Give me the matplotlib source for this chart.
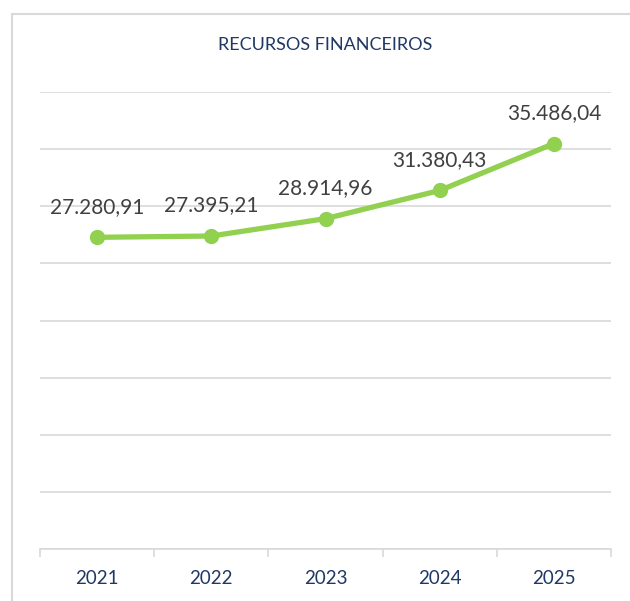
import matplotlib
matplotlib.use("Agg")
import matplotlib.pyplot as plt
from matplotlib.patches import Rectangle

years = ["2021", "2022", "2023", "2024", "2025"]
values = [27280.91, 27395.21, 28914.96, 31380.43, 35486.04]
labels = ["27.280,91", "27.395,21", "28.914,96", "31.380,43", "35.486,04"]
title = "RECURSOS FINANCEIROS"

W, H = 630, 601
fig = plt.figure(figsize=(W / 100, H / 100), dpi=100)
fig.patch.set_facecolor("white")

# outer chart border (extends beyond right/bottom edges)
fig.patches.append(Rectangle((11.5 / W, -0.1), 1.2, 1 - 13.5 / H + 0.1,
                             transform=fig.transFigure, fill=False,
                             edgecolor="#d9d9d9", linewidth=1.5))

left, right, top, bottom = 40, 611, 92, 549
ax = fig.add_axes([left / W, 1 - bottom / H, (right - left) / W, (bottom - top) / H])
ax.set_facecolor("none")

x = list(range(len(years)))
ax.plot(x, values, color="#92D050", linewidth=3.8, marker="o", markersize=10,
        solid_capstyle="round", zorder=3)

for xi, v, lab in zip(x, values, labels):
    ax.annotate(lab, (xi, v), xytext=(0, 22), textcoords="offset points",
                ha="center", va="center", fontsize=15, color="#404040",
                family="Lato")

ax.set_xlim(-0.5, len(years) - 0.5)
ax.set_ylim(0, 40000)
ax.set_yticks(range(0, 40001, 5000))
ax.yaxis.grid(True, color="#d9d9d9", linewidth=1.2)
ax.set_axisbelow(True)
ax.tick_params(axis="y", left=False, labelleft=False)

ax.set_xticks([i + 0.5 for i in range(-1, len(years))], minor=False)
ax.set_xticklabels([])
ax.tick_params(axis="x", which="major", length=6, color="#d9d9d9", width=1.2)
ax.set_xticks(x, minor=True)
ax.set_xticklabels(years, minor=True, fontsize=13.5, color="#1F3864", family="Lato")
ax.tick_params(axis="x", which="minor", length=0, pad=15)

for s in ["top", "left", "right"]:
    ax.spines[s].set_visible(False)
ax.spines["bottom"].set_color("#d9d9d9")
ax.spines["bottom"].set_linewidth(1.2)

fig.text(325 / W, 1 - 45 / H, title, ha="center", va="center", fontsize=13,
         color="#1F3864", family="Lato")

fig.savefig("out.png", dpi=100)
